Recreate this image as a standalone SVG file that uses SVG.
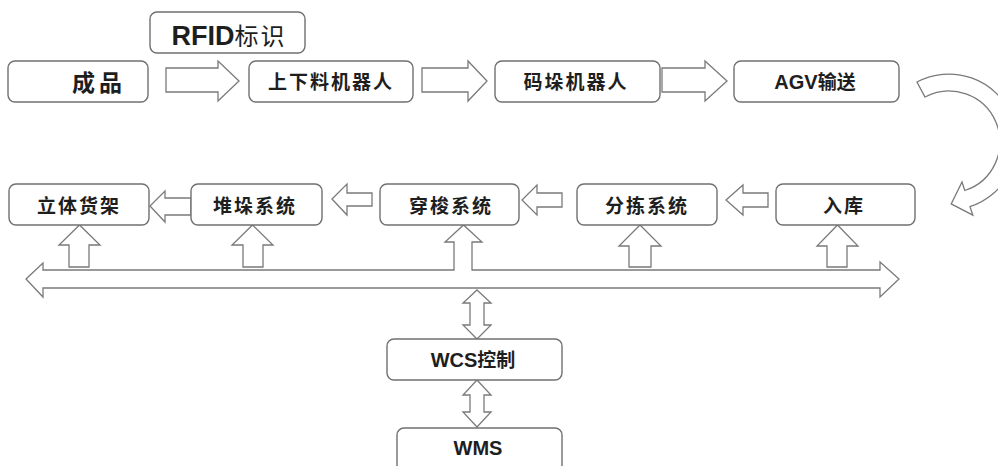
<svg xmlns="http://www.w3.org/2000/svg" width="998" height="466" viewBox="0 0 998 466">
<style>
.box{fill:#fff;stroke:#707070;stroke-width:1.4}
.arr{fill:#fff;stroke:#7a7a7a;stroke-width:1.3;stroke-linejoin:miter}
.t{font-family:"Liberation Sans","Noto Sans CJK SC",sans-serif;font-weight:bold;fill:#1e1e1e;text-anchor:middle}
.zh{font-size:19px;letter-spacing:2px}
.lat{font-size:20px}
</style>
<rect width="998" height="466" fill="#fff"/>
<g id="connectors">
<path class="arr" d="M166,68 L218,68 L218,61 L239,81 L218,101 L218,92 L166,92 Z"/>
<path class="arr" d="M422,68 L468,68 L468,61 L487,81 L468,101 L468,92 L422,92 Z"/>
<path class="arr" d="M662,68 L705,68 L705,61 L727,81 L705,101 L705,92 L662,92 Z"/>
<path class="arr" d="M917,82 A68,68 0 1 1 970,206.7 L972.8,215.2 L951.2,203.9 L962,182 L964.8,190.5 A51,51 0 1 0 925,97 Z"/>
<path class="arr" d="M768,193 L743,193 L743,185 L726,200 L743,215 L743,207 L768,207 Z"/>
<path class="arr" d="M562,193 L537,193 L537,185 L522,200 L537,215 L537,207 L562,207 Z"/>
<path class="arr" d="M372,193 L347,193 L347,184 L332,199 L347,215 L347,206 L372,206 Z"/>
<path class="arr" d="M191,198 L165,198 L165,191 L150,206 L165,222 L165,215 L191,215 Z"/>
<path class="arr" d="M69,267 L69,245 L59,245 L79.5,225 L100,245 L89,245 L89,267 Z"/>
<path class="arr" d="M243,267 L243,245 L232,245 L252.5,225 L273,245 L263,245 L263,267 Z"/>
<path class="arr" d="M629,267 L629,246 L619,246 L640,225 L661,246 L651,246 L651,267 Z"/>
<path class="arr" d="M827,267 L827,246 L817,246 L837.5,225 L858,246 L847,246 L847,267 Z"/>
<path class="arr" d="M26,279 L43,263 L43,270 L454,270 L454,242 L445,242 L463.5,225 L482,242 L472,242 L472,270 L880,270 L880,262 L899,279 L880,297 L880,288 L43,288 L43,297 Z"/>
<path class="arr" d="M477,290 L491,303 L484,303 L484,325 L491,325 L477,339 L463,325 L470,325 L470,303 L463,303 Z"/>
<path class="arr" d="M477,380 L491,395 L484,395 L484,412 L491,412 L477,427 L463,412 L470,412 L470,395 L463,395 Z"/>
</g>
<g id="rfid"><rect class="box" x="150" y="12" width="155" height="41" rx="7"/><text class="t" x="229" y="45" font-size="27px">RFID<tspan style="font-weight:normal;font-size:24px" letter-spacing="2">标识</tspan></text></g>
<g id="chengpin"><rect class="box" x="8" y="61" width="140" height="41" rx="7"/><text class="t" x="99" y="91" font-size="23px" letter-spacing="4">成品</text></g>
<g id="robot1"><rect class="box" x="249" y="61" width="164" height="41" rx="7"/><text class="t zh" x="331" y="89">上下料机器人</text></g>
<g id="robot2"><rect class="box" x="495" y="61" width="165" height="41" rx="7"/><text class="t zh" x="576" y="89">码垛机器人</text></g>
<g id="agv"><rect class="box" x="734" y="61" width="165" height="41" rx="7"/><text class="t lat" x="815" y="89">AGV<tspan font-size="19px">输送</tspan></text></g>
<g id="shelf"><rect class="box" x="9" y="184" width="140" height="41" rx="7"/><text class="t zh" x="79" y="213">立体货架</text></g>
<g id="stacker"><rect class="box" x="191" y="184" width="131" height="41" rx="7"/><text class="t zh" x="255" y="213">堆垛系统</text></g>
<g id="shuttle"><rect class="box" x="380" y="184" width="139" height="41" rx="7"/><text class="t zh" x="451" y="213">穿梭系统</text></g>
<g id="sorting"><rect class="box" x="577" y="184" width="140" height="41" rx="7"/><text class="t zh" x="647" y="213">分拣系统</text></g>
<g id="inbound"><rect class="box" x="776" y="184" width="139" height="41" rx="7"/><text class="t zh" x="844" y="213">入库</text></g>
<g id="wcs"><rect class="box" x="387" y="339" width="175" height="41" rx="7"/><text class="t lat" x="473" y="367">WCS<tspan font-size="19px">控制</tspan></text></g>
<g id="wms"><rect class="box" x="397" y="428" width="165" height="60" rx="7"/><text class="t lat" x="478" y="455">WMS</text></g>
</svg>
